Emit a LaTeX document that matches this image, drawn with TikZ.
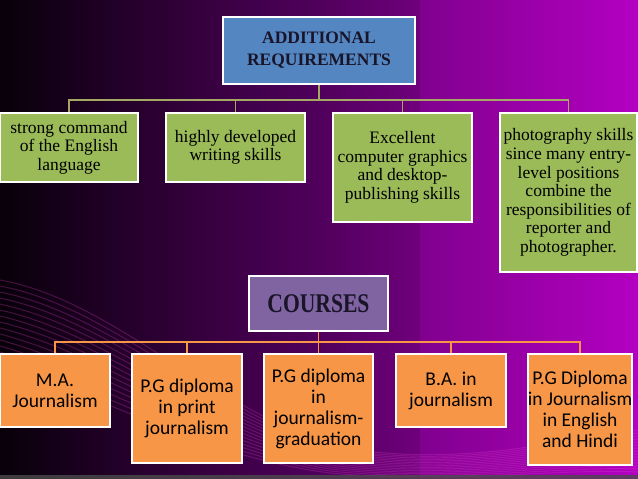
\documentclass[tikz,border=0pt]{standalone}
\usepackage{fontspec}
\setmainfont{Liberation Serif}
\newfontfamily\bodyserif{Liberation Serif}
\newfontfamily\bodysans{Carlito}
\newfontfamily\headfont{Liberation Serif}
\newfontfamily\coursefont{Liberation Serif}[FakeStretch=0.8]
\definecolor{bgdark}{RGB}{8,0,10}
\definecolor{bgmid}{RGB}{80,0,92}
\definecolor{bgright}{RGB}{180,0,195}
\definecolor{hblue}{RGB}{84,134,194}
\definecolor{hpurple}{RGB}{128,100,162}
\definecolor{bgreen}{RGB}{155,187,89}
\definecolor{borange}{RGB}{247,150,70}
\definecolor{gline}{RGB}{165,168,100}
\definecolor{oline}{RGB}{247,150,70}
\definecolor{wave}{RGB}{235,70,210}
\definecolor{htext}{RGB}{25,20,40}
\tikzset{
  boxbase/.style={draw=white, line width=1.5pt, inner sep=0pt, align=center, text=black},
  headbox/.style={boxbase, fill=hblue, text=htext, font=\headfont\bfseries\fontsize{17.5}{22}\selectfont},
  coursebox/.style={boxbase, fill=hpurple, text=htext, font=\coursefont\bfseries\fontsize{27}{30}\selectfont},
  greenbox/.style={boxbase, fill=bgreen, font=\bodyserif\fontsize{17.5}{18.6}\selectfont},
  orangebox/.style={boxbase, fill=borange, font=\bodysans\fontsize{19.5}{21}\selectfont},
  glink/.style={draw=gline, line width=1.5pt},
  olink/.style={draw=oline, line width=1.5pt},
  wavestroke/.style={draw=wave, line width=1pt, opacity=0.25}
}
\begin{document}
\begin{tikzpicture}[x=1pt,y=-1pt]
\useasboundingbox (0,0) rectangle (638,479);
% background
\shade[left color=bgdark, right color=bgright, middle color=bgmid] (0,0) rectangle (638,479);
\shade[top color=bgright, bottom color=bgright, opacity=0.25] (420,0) rectangle (638,479);
% wave streaks
\foreach \k in {0,...,14}{
  \draw[wavestroke] (0,{280+\k*6}) .. controls (110,{300+\k*7}) and (200,{400+\k*4}) .. (330,{445+\k*2}) .. controls (450,{470+\k*1}) and (560,{440+\k*2}) .. (638,{430+\k*3});
}
\fill[gray!60!black, opacity=0.8] (0,475) rectangle (638,479);
% top heading
\node[headbox, minimum width=192pt, minimum height=67pt] (top) at (319,50.5) {ADDITIONAL\\REQUIREMENTS};
% green boxes
\node[greenbox, minimum width=138pt, minimum height=69pt] (g1) at (69,147.5) {strong command\\of the English\\language};
\node[greenbox, minimum width=139pt, minimum height=69pt] (g2) at (235.5,147.5) {highly developed\\writing skills};
\node[greenbox, minimum width=139pt, minimum height=109pt] (g3) at (402.5,167.5) {Excellent\\computer graphics\\and desktop-\\publishing skills};
\node[greenbox, minimum width=137pt, minimum height=159pt] (g4) at (568.5,192.5) {photography skills\\since many entry-\\level positions\\combine the\\responsibilities of\\reporter and\\photographer.};
\coordinate (tb) at (319,100);
\draw[glink] (top.south) -- (tb);
\draw[glink] (g1.north) -- (g1.north |- tb) -- (g4.north |- tb) -- (g4.north);
\draw[glink] (g2.north) -- (g2.north |- tb);
\draw[glink] (g3.north) -- (g3.north |- tb);
% courses
\node[coursebox, minimum width=139pt, minimum height=55pt] (courses) at (318.5,303.5) {COURSES};
\node[orangebox, minimum width=110pt, minimum height=73pt] (o1) at (55,390.5) {M.A.\\Journalism};
\node[orangebox, minimum width=110pt, minimum height=109pt] (o2) at (187,408.5) {P.G diploma\\in print\\journalism};
\node[orangebox, minimum width=109pt, minimum height=109pt] (o3) at (318.5,408.5) {P.G diploma\\in\\journalism-\\graduation};
\node[orangebox, minimum width=110pt, minimum height=73pt] (o4) at (451,390.5) {B.A. in\\journalism};
\node[orangebox, minimum width=104pt, minimum height=111pt] (o5) at (580,409.5) {P.G Diploma\\in Journalism\\in English\\and Hindi};
\coordinate (cb) at (318.5,342);
\draw[olink] (courses.south) -- (cb);
\draw[olink] (o1.north) -- (o1.north |- cb) -- (o5.north |- cb) -- (o5.north);
\draw[olink] (o2.north) -- (o2.north |- cb);
\draw[olink] (o3.north) -- (o3.north |- cb);
\draw[olink] (o4.north) -- (o4.north |- cb);
\end{tikzpicture}
\end{document}
